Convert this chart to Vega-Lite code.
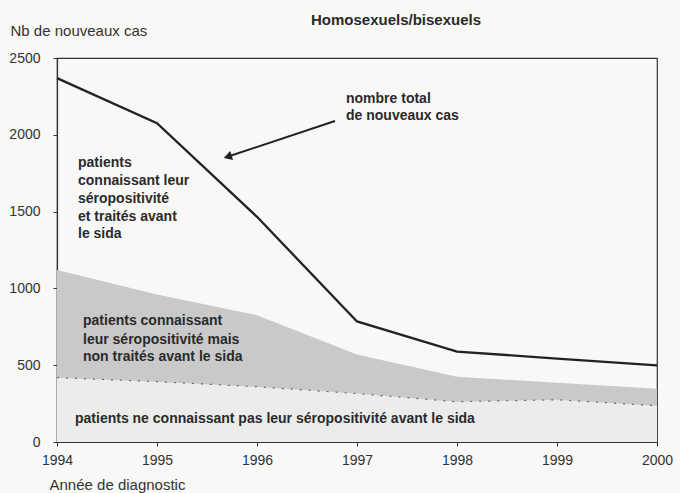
{
  "$schema": "https://vega.github.io/schema/vega-lite/v6.json",
  "autosize": {"type": "none"},
  "width": 600,
  "height": 384,
  "padding": {"left": 57, "top": 58, "right": 23, "bottom": 51},
  "background": "#f8f8f6",
  "title": {
    "text": "Homosexuels/bisexuels",
    "fontSize": 15,
    "fontWeight": "bold",
    "font": "Liberation Sans",
    "color": "#2a2a2a",
    "anchor": "middle",
    "dx": 39,
    "dy": 5,
    "offset": 0
  },
  "config": {
    "font": "Liberation Sans",
    "view": {"stroke": "#333333", "strokeWidth": 1.2},
    "axis": {"labelFont": "Liberation Sans", "titleFont": "Liberation Sans"}
  },
  "datasets": {
    "series": [
      {"year": 1994, "total": 2369, "nontraites": 1119, "inconnus": 419},
      {"year": 1995, "total": 2075, "nontraites": 960, "inconnus": 393},
      {"year": 1996, "total": 1466, "nontraites": 825, "inconnus": 360},
      {"year": 1997, "total": 785, "nontraites": 569, "inconnus": 315},
      {"year": 1998, "total": 589, "nontraites": 425, "inconnus": 262},
      {"year": 1999, "total": 543, "nontraites": 386, "inconnus": 275},
      {"year": 2000, "total": 499, "nontraites": 347, "inconnus": 236}
    ],
    "labels": [
      {"x": 1994.21, "y": 1816, "text": "patients"},
      {"x": 1994.21, "y": 1699, "text": "connaissant leur"},
      {"x": 1994.21, "y": 1582, "text": "séropositivité"},
      {"x": 1994.21, "y": 1465, "text": "et traités avant"},
      {"x": 1994.21, "y": 1354, "text": "le sida"},
      {"x": 1994.26, "y": 788, "text": "patients connaissant"},
      {"x": 1994.26, "y": 664, "text": "leur séropositivité mais"},
      {"x": 1994.26, "y": 553, "text": "non traités avant le sida"},
      {"x": 1994.18, "y": 150, "text": "patients ne connaissant pas leur séropositivité avant le sida"},
      {"x": 1996.89, "y": 2233, "text": "nombre total"},
      {"x": 1996.89, "y": 2122, "text": "de nouveaux cas"}
    ],
    "arrow": [
      {"x": 1996.78, "y": 2090, "x2": 1995.72, "y2": 1860}
    ],
    "head": [
      {"x": 1995.72, "y": 1860}
    ]
  },
  "layer": [
    {
      "data": {"name": "series"},
      "mark": {"type": "area", "color": "#c9c9c9", "opacity": 1},
      "encoding": {
        "x": {
          "field": "year", "type": "quantitative",
          "scale": {"domain": [1994, 2000], "nice": false, "zero": false},
          "axis": {
            "values": [1994, 1995, 1996, 1997, 1998, 1999, 2000],
            "format": "d",
            "grid": false,
            "labelFlush": false,
            "labelBound": false,
            "labelOverlap": false,
            "domainColor": "#333333",
            "domainWidth": 1.2,
            "tickColor": "#333333",
            "tickSize": 4,
            "labelFontSize": 14,
            "labelColor": "#333333",
            "labelPadding": 7,
            "title": "Année de diagnostic",
            "titleFontSize": 15,
            "titleFontWeight": "normal",
            "titleColor": "#333333",
            "titleAlign": "left",
            "titleAnchor": "start",
            "titleX": -8,
            "titleY": 42,
            "titleBaseline": "middle"
          }
        },
        "y": {
          "field": "nontraites", "type": "quantitative",
          "scale": {"domain": [0, 2500], "nice": false},
          "axis": {
            "values": [0, 500, 1000, 1500, 2000, 2500],
            "format": "d",
            "grid": false,
            "labelFlush": false,
            "labelOverlap": false,
            "domainColor": "#333333",
            "domainWidth": 1.2,
            "tickColor": "#333333",
            "tickSize": 4,
            "labelFontSize": 14,
            "labelColor": "#333333",
            "labelPadding": 13,
            "title": "Nb de nouveaux cas",
            "titleFontSize": 15,
            "titleFontWeight": "normal",
            "titleColor": "#333333",
            "titleAngle": 0,
            "titleAlign": "left",
            "titleBaseline": "middle",
            "titleX": -47,
            "titleY": -28
          }
        },
        "y2": {"datum": 0}
      }
    },
    {
      "data": {"name": "series"},
      "mark": {"type": "area", "color": "#ececea", "opacity": 1},
      "encoding": {
        "x": {"field": "year", "type": "quantitative"},
        "y": {"field": "inconnus", "type": "quantitative"},
        "y2": {"datum": 0}
      }
    },
    {
      "data": {"name": "series"},
      "mark": {"type": "line", "color": "#666666", "strokeWidth": 1.2, "strokeDash": [2, 7]},
      "encoding": {
        "x": {"field": "year", "type": "quantitative"},
        "y": {"field": "inconnus", "type": "quantitative"}
      }
    },
    {
      "data": {"name": "series"},
      "mark": {"type": "line", "color": "#222222", "strokeWidth": 2.3},
      "encoding": {
        "x": {"field": "year", "type": "quantitative"},
        "y": {"field": "total", "type": "quantitative"}
      }
    },
    {
      "data": {"name": "arrow"},
      "mark": {"type": "rule", "color": "#222222", "strokeWidth": 2},
      "encoding": {
        "x": {"field": "x", "type": "quantitative"},
        "y": {"field": "y", "type": "quantitative"},
        "x2": {"field": "x2"},
        "y2": {"field": "y2"}
      }
    },
    {
      "data": {"name": "head"},
      "mark": {"type": "point", "shape": "triangle", "filled": true, "color": "#222222", "size": 90, "angle": 252, "opacity": 1},
      "encoding": {
        "x": {"field": "x", "type": "quantitative"},
        "y": {"field": "y", "type": "quantitative"}
      }
    },
    {
      "data": {"name": "labels"},
      "mark": {"type": "text", "align": "left", "baseline": "middle", "fontSize": 14, "fontWeight": "bold", "color": "#2a2a2a"},
      "encoding": {
        "x": {"field": "x", "type": "quantitative"},
        "y": {"field": "y", "type": "quantitative"},
        "text": {"field": "text", "type": "nominal"}
      }
    }
  ]
}
